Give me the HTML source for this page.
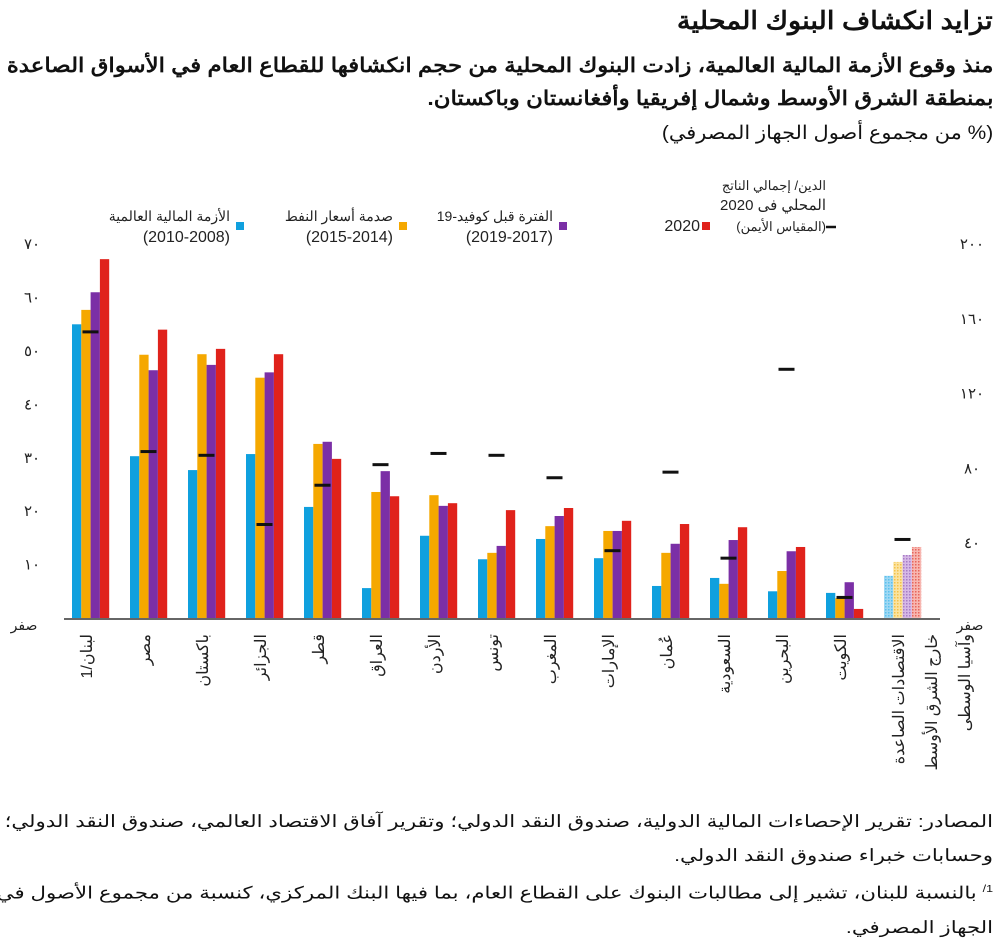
<!DOCTYPE html>
<html><head><meta charset="utf-8"><style>
html,body{margin:0;padding:0;background:#fff;}
body{width:1003px;height:942px;overflow:hidden;position:relative;font-family:"Liberation Sans","Noto Sans CJK SC",sans-serif;color:#111;}
.t{position:absolute;right:10px;direction:rtl;text-align:right;white-space:nowrap;transform-origin:right top;}
svg{position:absolute;left:0;top:0;}
</style></head><body>
<div class="t" style="top:6px;font-size:25px;font-weight:bold;transform:scaleX(1.09);">تزايد انكشاف البنوك المحلية</div>
<div class="t" style="top:50px;font-size:20px;font-weight:bold;line-height:33px;transform:scaleX(1.14);">منذ وقوع الأزمة المالية العالمية، زادت البنوك المحلية من حجم انكشافها للقطاع العام في الأسواق الصاعدة<br>بمنطقة الشرق الأوسط وشمال إفريقيا وأفغانستان وباكستان.</div>
<div class="t" style="top:122px;font-size:19px;transform:scaleX(1.1);">(% من مجموع أصول الجهاز المصرفي)</div>
<div class="t" style="top:805px;font-size:17px;line-height:34px;transform:scaleX(1.25);">المصادر: تقرير الإحصاءات المالية الدولية، صندوق النقد الدولي؛ وتقرير آفاق الاقتصاد العالمي، صندوق النقد الدولي؛<br>وحسابات خبراء صندوق النقد الدولي.<br><sup style="font-size:10px">1/</sup> بالنسبة للبنان، تشير إلى مطالبات البنوك على القطاع العام، بما فيها البنك المركزي، كنسبة من مجموع الأصول في<br>الجهاز المصرفي.</div>
<svg id="chart" width="1003" height="942">
<defs>
<pattern id="pb" width="3" height="3" patternUnits="userSpaceOnUse"><rect width="3" height="3" fill="#9fd8f3"/><rect width="1.5" height="1.5" fill="#5bc1ee"/></pattern>
<pattern id="po" width="3" height="3" patternUnits="userSpaceOnUse"><rect width="3" height="3" fill="#fbe3a0"/><rect width="1.5" height="1.5" fill="#f3c24a"/></pattern>
<pattern id="pp" width="3" height="3" patternUnits="userSpaceOnUse"><rect width="3" height="3" fill="#d6b8e6"/><rect width="1.5" height="1.5" fill="#a77cc6"/></pattern>
<pattern id="pr" width="3" height="3" patternUnits="userSpaceOnUse"><rect width="3" height="3" fill="#f7b6b0"/><rect width="1.5" height="1.5" fill="#e7655c"/></pattern>
</defs>
<g id="g"></g>
</svg>
<script>
const categories=["لبنان/1","مصر","باكستان","الجزائر","قطر","العراق","الأردن","تونس","المغرب","الإمارات","عُمان","السعودية","البحرين","الكويت","EM"];
const gfc=[55,30.3,27.7,30.7,20.8,5.6,15.4,11,14.8,11.2,6,7.5,5,4.7,7.9];
const oil=[57.7,49.3,49.4,45,32.6,23.6,23,12.2,17.2,16.3,12.2,6.4,8.8,3.7,10.5];
const precovid=[61,46.4,47.4,46,33,27.5,21,13.5,19.1,16.3,13.9,14.6,12.5,6.7,11.8];
const y2020=[67.2,54,50.4,49.4,29.8,22.8,21.5,20.2,20.6,18.2,17.6,17,13.3,1.7,13.3];
const debtGdp=[153,89,87,50,71,82,88,87,75,36,78,32,133,11,42];
const leftTicks=["صفر","١٠","٢٠","٣٠","٤٠","٥٠","٦٠","٧٠"];
const rightTicks=["صفر","٤٠","٨٠","١٢٠","١٦٠","٢٠٠"];
const NS="http://www.w3.org/2000/svg";
const g=document.getElementById('g');
const y0=618, yL=v=>y0-v*5.34, yR=v=>y0-v*1.87;
const gx=i=>72+i*58, bw=9.3;
function mk(t,a){const e=document.createElementNS(NS,t);for(const k in a)e.setAttribute(k,a[k]);g.appendChild(e);return e;}
const series=[gfc,oil,precovid,y2020], cols=["#0fa0de","#f5a800","#7b2fa6","#e0221b"], pats=["url(#pb)","url(#po)","url(#pp)","url(#pr)"];
const sn=["gfc","oil-shock","pre-covid","2020"];
categories.forEach((c,i)=>{
  series.forEach((s,k)=>{
    const r=mk('rect',{x:gx(i)+k*bw,y:yL(s[i]),width:bw,height:y0-yL(s[i]),fill:i==14?pats[k]:cols[k]});
    
    
  });
  const m=mk('line',{x1:gx(i)+10.5,x2:gx(i)+26.5,y1:yR(debtGdp[i]),y2:yR(debtGdp[i]),stroke:'#111','stroke-width':3});
  
  
});
const ax=mk('line',{x1:64,x2:940,y1:y0+1,y2:y0+1,stroke:'#666','stroke-width':2});


leftTicks.forEach((t,i)=>{const e=mk('text',{x:i==0?24:32,y:yL(i*10)+(i==0?12:5),'font-size':i==0?14:15,'text-anchor':'middle',fill:'#222'});e.textContent=t;

});
rightTicks.forEach((t,i)=>{const e=mk('text',{x:i==0?970:972,y:yR(i*40)+(i==0?12:5),'font-size':i==0?14:15,'text-anchor':'middle',fill:'#222'});e.textContent=t;

});
categories.forEach((c,i)=>{
  const lines=i==14?["الاقتصادات الصاعدة","خارج الشرق الأوسط","وآسيا الوسطى"]:[c];
  lines.forEach((l,j)=>{
    const x=gx(i)+20+j*33, y=634;
    const e=mk('text',{x:x,y:y,transform:`rotate(-90 ${x} ${y})`,'text-anchor':'start','font-size':16,fill:'#222',direction:'rtl'});
    e.textContent=l;
    
    
  });
});
const leg=[[240,["الأزمة المالية العالمية","(2010-2008)"],cols[0]],[403,["صدمة أسعار النفط","(2015-2014)"],cols[1]],[563,["الفترة قبل كوفيد-19","(2019-2017)"],cols[2]]];
leg.forEach(([x,t,c])=>{
  const r=mk('rect',{x:x-4,y:222,width:8,height:8,fill:c});
  
  
  t.forEach((s,j)=>{const e=mk('text',{x:x-10,y:221+j*21,'font-size':j?16:14,'text-anchor':'end',fill:'#222'});e.textContent=s;
  
  });
});
const rr=mk('rect',{x:702,y:222,width:8,height:8,fill:cols[3]});


const t20=mk('text',{x:700,y:231,'font-size':16,'text-anchor':'end',fill:'#222'});t20.textContent="2020";


const dl=mk('line',{x1:826,x2:836,y1:227,y2:227,stroke:'#111','stroke-width':2.5});


[["الدين/ إجمالي الناتج",190,13],["المحلي فى 2020",210,15],["(المقياس الأيمن)",231,13]].forEach(([s,y,f])=>{
  const e=mk('text',{x:826,y:y,'font-size':f,'text-anchor':'end',fill:'#222'});e.textContent=s;
  
  
});
</script>
</body></html>
